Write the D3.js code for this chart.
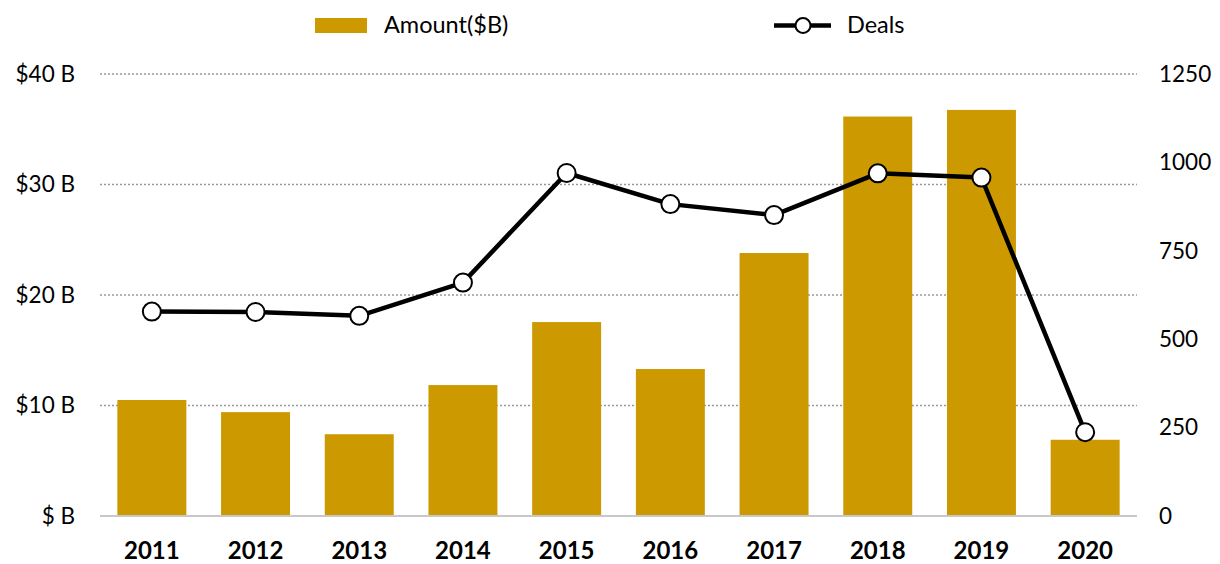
<!DOCTYPE html>
<html><head><meta charset="utf-8">
<script src="https://cdn.jsdelivr.net/npm/d3@7"></script>
<style>body{margin:0;background:#fff;} svg{display:block;font-family:Lato, "Open Sans", sans-serif;}</style>
</head><body>
<svg id="c" width="1220" height="564"></svg>
<script>
const years = ["2011","2012","2013","2014","2015","2016","2017","2018","2019","2020"];
const amounts = [10.5, 9.4, 7.4, 11.85, 17.55, 13.3, 23.8, 36.15, 36.75, 6.9];
const deals = [578, 577, 566, 660, 970, 882, 851, 969, 957, 237];
const leftTicks = [0, 10, 20, 30, 40];
const rightTicks = [0, 250, 500, 750, 1000, 1250];

const svg = d3.select("#c");
const L = 100, R = 1137, T = 74, B = 516;
const x = d3.scaleBand().domain(years).range([L, R]).paddingInner(0.335).paddingOuter(0.1675);
const yL = d3.scaleLinear().domain([0, 40]).range([B, T]);
const yR = d3.scaleLinear().domain([0, 1250]).range([B, T]);
const gold = "#CC9900";

// gridlines
svg.append("g").selectAll("line").data(leftTicks.slice(1)).join("line")
  .attr("x1", L).attr("x2", R).attr("y1", d => yL(d)).attr("y2", d => yL(d))
  .attr("stroke", "#999").attr("stroke-width", 1.3).attr("stroke-dasharray", "2,2");

// bars
svg.append("g").selectAll("rect").data(years).join("rect")
  .attr("x", d => x(d)).attr("width", x.bandwidth())
  .attr("y", (d, i) => yL(amounts[i])).attr("height", (d, i) => B - yL(amounts[i]))
  .attr("fill", gold);

// baseline
svg.append("line").attr("x1", L).attr("x2", R).attr("y1", B).attr("y2", B)
  .attr("stroke", "#c8c8c8").attr("stroke-width", 2);

// line
const line = d3.line().x((d, i) => x(years[i]) + x.bandwidth() / 2).y(d => yR(d));
svg.append("path").datum(deals).attr("d", line).attr("fill", "none")
  .attr("stroke", "#000").attr("stroke-width", 4.5).attr("stroke-linejoin", "round");
svg.append("g").selectAll("circle").data(deals).join("circle")
  .attr("cx", (d, i) => x(years[i]) + x.bandwidth() / 2).attr("cy", d => yR(d))
  .attr("r", 9).attr("fill", "#fff").attr("stroke", "#000").attr("stroke-width", 2);

// left axis
const axL = d3.axisLeft(yL).tickValues(leftTicks).tickSize(0).tickPadding(0)
  .tickFormat(d => d === 0 ? "$ B" : "$" + d + " B");
const gL = svg.append("g").attr("transform", "translate(75,0)").call(axL);
gL.select(".domain").remove();
gL.selectAll("text").attr("font-size", 22.5).attr("fill", "#000").attr("font-family", "Lato, sans-serif");

// right axis
const axR = d3.axisRight(yR).tickValues(rightTicks).tickSize(0).tickPadding(0).tickFormat(d3.format("d"));
const gR = svg.append("g").attr("transform", "translate(1159,0)").call(axR);
gR.select(".domain").remove();
gR.selectAll("text").attr("font-size", 22.5).attr("fill", "#000").attr("font-family", "Lato, sans-serif");

// x axis
const axX = d3.axisBottom(x).tickSize(0).tickPadding(0);
const gX = svg.append("g").attr("transform", "translate(0,542)").call(axX);
gX.select(".domain").remove();
gX.selectAll("text").attr("font-size", 24).attr("font-weight", "bold").attr("fill", "#000").attr("font-family", "Lato, sans-serif");

// legend
const lg = svg.append("g");
lg.append("rect").attr("x", 315).attr("y", 18).attr("width", 52).attr("height", 15).attr("fill", gold);
lg.append("text").attr("x", 384).attr("y", 33).attr("font-size", 23.5).text("Amount($B)");
lg.append("line").attr("x1", 774).attr("x2", 831).attr("y1", 25.5).attr("y2", 25.5).attr("stroke", "#000").attr("stroke-width", 4.5);
lg.append("circle").attr("cx", 803).attr("cy", 25.5).attr("r", 7.5).attr("fill", "#fff").attr("stroke", "#000").attr("stroke-width", 2);
lg.append("text").attr("x", 847).attr("y", 33).attr("font-size", 23.5).text("Deals");
</script>
</body></html>
